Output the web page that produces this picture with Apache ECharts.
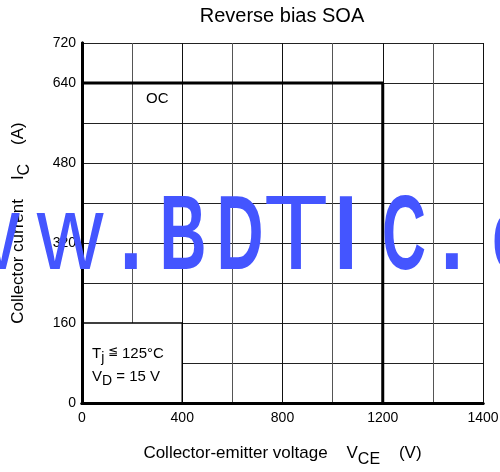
<!DOCTYPE html>
<html>
<head>
<meta charset="utf-8">
<script src="https://cdn.jsdelivr.net/npm/echarts@6/dist/echarts.min.js"></script>
<style>
  html, body { margin: 0; padding: 0; background: #fff; }
  #chart { width: 500px; height: 472px; }
</style>
</head>
<body>
<div id="chart"></div>
<script>
// SOA boundary (V, A)
const soaVoltage = [0, 1200, 1200];
const soaCurrent = [640, 640, 0];
// tick labels, one per grid line (the last x label reads 1400 in the source)
const xTickLabels = ['0', '', '400', '', '800', '', '1200', '', '1400'];
const yTickLabels = ['0', '', '160', '', '320', '', '480', '', '640', '720'];

const FONT = 'Liberation Sans, Arial, sans-serif';
const chart = echarts.init(document.getElementById('chart'));

const sub = {fontSize: 16, fontFamily: FONT, color: '#000', padding: [7, 0, 0, 0], verticalAlign: 'top', lineHeight: 16};
const main = {fontSize: 17, fontFamily: FONT, color: '#000', verticalAlign: 'top', lineHeight: 22};

// watermark glyphs: [char, centre x, scaleX, bold]
const wm = [
  ['w', -14, 0.88, false], ['w', 70, 0.88, false], ['.', 131, 0.8, true],
  ['B', 183, 0.62, true], ['D', 240, 0.62, true], ['T', 296, 1.0, false],
  ['I', 346, 0.8, true], ['C', 404, 0.58, true], ['.', 452, 0.8, true],
  ['c', 510, 0.62, true]
];
const watermark = wm.map(([ch, cx, sx, b]) => ({
  type: 'text', x: cx, y: 188, scaleX: sx, z: 100,
  style: {
    text: ch, fontSize: 105, fontFamily: FONT, fontWeight: b ? 'bold' : 'normal',
    fill: '#4455ff', textAlign: 'center', verticalAlign: 'top'
  }
}));

const option = {
  animation: false,
  backgroundColor: '#fff',
  grid: {left: 82, right: 17, top: 43, bottom: 69, containLabel: false, outerBoundsMode: 'none'},
  xAxis: [
    {
      type: 'value', position: 'bottom', min: 0, max: 1600, interval: 200, z: 10,
      axisLine: {lineStyle: {color: '#000', width: 3}},
      axisTick: {show: false},
      splitLine: {show: false},
      axisLabel: {
        color: '#000', fontSize: 14, fontFamily: FONT, margin: 8,
        formatter: v => xTickLabels[Math.round(v / 200)] || ''
      },
      name: '{m|Collector-emitter voltage    V}{s|CE}{m|    (V)}',
      nameLocation: 'middle', nameGap: 42,
      nameTextStyle: {rich: {m: main, s: sub}}
    },
    {
      type: 'value', position: 'top', min: 0, max: 1600, interval: 200,
      axisLine: {lineStyle: {color: '#000', width: 3}},
      axisTick: {show: false}, axisLabel: {show: false},
      splitLine: {lineStyle: {color: ['#111', '#555'], width: 1}}
    }
  ],
  yAxis: [
    {
      type: 'value', position: 'left', min: 0, max: 720, interval: 80, z: 10,
      axisLine: {show: true, lineStyle: {color: '#000', width: 3}},
      axisTick: {show: false},
      splitLine: {show: false},
      axisLabel: {
        color: '#000', fontSize: 14, fontFamily: FONT, margin: 6,
        formatter: v => yTickLabels[Math.round(v / 80)] || ''
      },
      name: '{m|Collector current    I}{s|C}{m|    (A)}',
      nameLocation: 'middle', nameGap: 50, nameRotate: 90,
      nameTextStyle: {rich: {m: main, s: sub}}
    },
    {
      type: 'value', position: 'right', min: 0, max: 720, interval: 80,
      axisLine: {show: true, lineStyle: {color: '#000', width: 3}},
      axisTick: {show: false}, axisLabel: {show: false},
      splitLine: {lineStyle: {color: '#222', width: 1}}
    }
  ],
  series: [
    {
      type: 'line',
      xAxisIndex: 0, yAxisIndex: 0,
      data: soaVoltage.map((v, i) => [v, soaCurrent[i]]),
      symbol: 'none',
      lineStyle: {color: '#000', width: 3},
      silent: true,
      markArea: {
        silent: true,
        itemStyle: {color: '#fff', borderColor: '#000', borderWidth: 1.5},
        data: [[{coord: [0, 0]}, {coord: [400, 160]}]]
      }
    }
  ],
  graphic: [
    {
      type: 'text', x: 282, y: 6, z: 20,
      style: {text: 'Reverse bias SOA', fontSize: 20, fontFamily: FONT, fill: '#000', textAlign: 'center'}
    },
    {
      type: 'text', left: 146, top: 91, z: 20,
      style: {text: 'OC', fontSize: 15, fontFamily: FONT, fill: '#000'}
    },
    {
      type: 'text', x: 92, y: 346, z: 20,
      style: {
        text: '{m|T}{s|j}{g| ≦ }{m|125°C}',
        rich: {
          m: {fontSize: 15, fontFamily: FONT, fill: '#000', verticalAlign: 'top', lineHeight: 18},
          s: {fontSize: 14, fontFamily: FONT, fill: '#000', verticalAlign: 'top', lineHeight: 14, padding: [5, 0, 0, 0]},
          g: {fontSize: 12, fontFamily: 'DejaVu Sans, sans-serif', fill: '#000', verticalAlign: 'top', lineHeight: 16}
        }
      }
    },
    {
      type: 'text', x: 92, y: 369, z: 20,
      style: {
        text: '{m|V}{s|D}{m| = 15 V}',
        rich: {
          m: {fontSize: 15, fontFamily: FONT, fill: '#000', verticalAlign: 'top', lineHeight: 18},
          s: {fontSize: 14, fontFamily: FONT, fill: '#000', verticalAlign: 'top', lineHeight: 14, padding: [5, 0, 0, 0]}
        }
      }
    }
  ].concat(watermark)
};
chart.setOption(option);
</script>
</body>
</html>
